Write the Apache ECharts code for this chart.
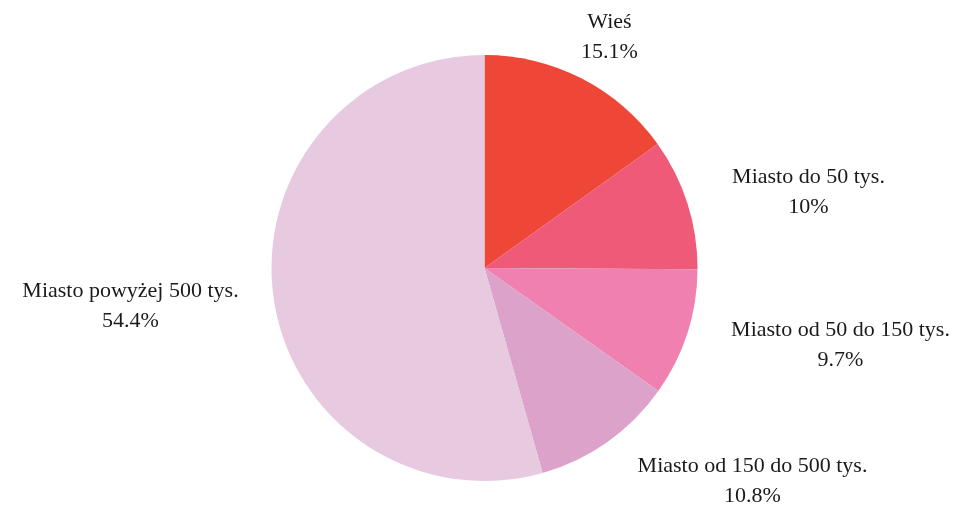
<!DOCTYPE html>
<html>
<head>
<meta charset="utf-8">
<script src="https://cdn.jsdelivr.net/npm/echarts@6/dist/echarts.min.js"></script>
<style>
  html, body { margin: 0; padding: 0; background: #ffffff; }
  #chart { width: 953px; height: 505px; }
</style>
</head>
<body>
<div id="chart"></div>
<script>
// Place of residence, share of respondents (%)
const categories = [
  'Wieś',
  'Miasto do 50 tys.',
  'Miasto od 50 do 150 tys.',
  'Miasto od 150 do 500 tys.',
  'Miasto powyżej 500 tys.'
];
const shares = [15.1, 10, 9.7, 10.8, 54.4];
const colors = ['#EE4637', '#EE5A78', '#EF80B0', '#DDA2CA', '#E8CAE0'];

// Label block centre, as an offset from the pie centre (px)
const labelOffsets = [
  [125, -231],
  [324, -76],
  [356, 77],
  [268, 213],
  [-354, 38]
];

const cx = 484.5, cy = 268, radius = 213;

const chart = echarts.init(document.getElementById('chart'), null, { renderer: 'canvas' });

chart.setOption({
  backgroundColor: '#ffffff',
  animation: false,
  series: [{
    type: 'pie',
    center: [cx, cy],
    radius: radius,
    startAngle: 90,
    clockwise: true,
    avoidLabelOverlap: false,
    itemStyle: { borderWidth: 0 },
    emphasis: { disabled: true },
    label: {
      show: true,
      position: 'outside',
      formatter: '{b}\n{c}%',
      fontFamily: 'Liberation Serif',
      fontSize: 22,
      lineHeight: 30,
      color: '#1a1a1a',
      align: 'center'
    },
    labelLine: { show: false },
    labelLayout: function (params) {
      const o = labelOffsets[params.dataIndex];
      return {
        x: cx + o[0],
        y: cy + o[1],
        align: 'center',
        verticalAlign: 'middle'
      };
    },
    data: categories.map((name, i) => ({
      name: name,
      value: shares[i],
      itemStyle: { color: colors[i] }
    }))
  }]
});
</script>
</body>
</html>
